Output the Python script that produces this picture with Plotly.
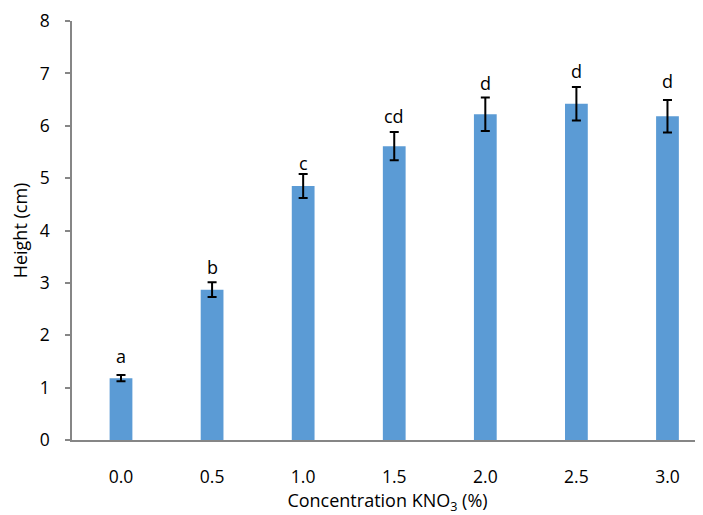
import plotly.graph_objects as go

categories = ["0.0", "0.5", "1.0", "1.5", "2.0", "2.5", "3.0"]
heights = [1.18, 2.87, 4.85, 5.61, 6.22, 6.42, 6.18]
errors = [0.06, 0.14, 0.23, 0.27, 0.32, 0.32, 0.31]
letters = ["a", "b", "c", "cd", "d", "d", "d"]
y_ticks = [0, 1, 2, 3, 4, 5, 6, 7, 8]

xpos = list(range(len(categories)))
FONT = "Open Sans, Liberation Sans, sans-serif"
# visual gap (px) between letter baseline and error-bar top, per bar
letter_gap = [11, 7, 3, 8, 6, 8, 11]

fig = go.Figure()
fig.add_trace(go.Bar(
    x=xpos, y=heights, width=0.25,
    marker=dict(color="#5B9BD5", line=dict(width=0)),
    error_y=dict(type="data", array=errors, visible=True,
                 color="black", thickness=2, width=4.5),
))

for x, h, e, t, g in zip(xpos, heights, errors, letters, letter_gap):
    fig.add_annotation(x=x, y=h + e, text=t, showarrow=False,
                       yanchor="bottom", yshift=g - 6,
                       font=dict(size=18, color="black", family=FONT))

fig.update_layout(
    width=695, height=507,
    margin=dict(l=64, r=0, t=11, b=75),
    plot_bgcolor="white", paper_bgcolor="white",
    showlegend=False,
    font=dict(family=FONT, color="black", size=17),
    xaxis=dict(
        range=[-0.538, 6.39],
        tickmode="array", tickvals=xpos, ticktext=categories,
        showline=True, linecolor="#868686", linewidth=1.5,
        ticks="", showgrid=False, zeroline=False,
        tickfont=dict(size=17.5), ticklabelstandoff=20,
        title=dict(text="Concentration KNO<sub>3</sub> (%)", font=dict(size=18), standoff=8),
    ),
    yaxis=dict(
        range=[0, 8], tickvals=y_ticks,
        showline=True, linecolor="#868686", linewidth=1.5,
        ticks="outside", ticklen=5, tickcolor="#868686", tickwidth=1.5,
        showgrid=False, zeroline=False,
        tickfont=dict(size=17.5), ticklabelstandoff=12,
        ticklabeloverflow="allow",
        title=dict(text="Height (cm)", font=dict(size=18), standoff=7),
    ),
)

fig.write_html("out.html")
